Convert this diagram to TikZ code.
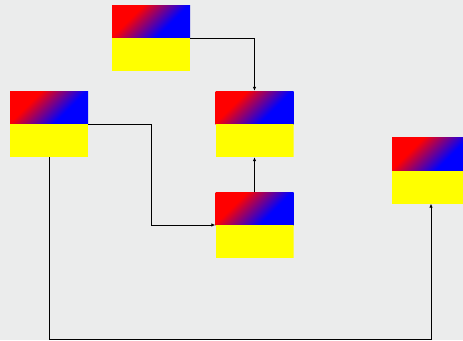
\documentclass[tikz,border=0pt]{standalone}
\usepackage{tikz}
\usetikzlibrary{arrows.meta,positioning}
\definecolor{canvas}{RGB}{235,236,236}
\definecolor{flagyellow}{RGB}{255,255,0}
\definecolor{flagred}{RGB}{255,0,0}
\definecolor{flagblue}{RGB}{0,0,255}
\pgfdeclarehorizontalshading{redblue}{100bp}{color(0bp)=(flagred); color(30bp)=(flagred); color(52bp)=(flagblue); color(100bp)=(flagblue)}
\tikzset{
  flag/.style={rectangle,inner sep=0pt,minimum width=78pt,minimum height=66pt,
    path picture={
      \shade[shading=redblue,shading angle=-45] (path picture bounding box.north west) rectangle (path picture bounding box.east);
      \fill[flagyellow] (path picture bounding box.west) rectangle (path picture bounding box.south east);
    }},
  link/.style={draw=black,line width=0.8pt,-{Latex[length=4pt,width=3.5pt]}}
}

\begin{document}
\begin{tikzpicture}[x=1pt,y=-1pt]
  \fill[canvas] (0,0) rectangle (463,340);
  \useasboundingbox (0,0) rectangle (463,340);
  \clip (0,0) rectangle (463,340);
  % boxes
  \node[flag] (top) at (151,38) {};
  \node[flag] (left) at (49,124) {};
  \node[flag] (upper) at (254.5,124) {};
  \node[flag] (lower) at (254.5,225) {};
  \node[flag] (right) at (431,170.5) {};
  % connectors
  \coordinate (bend) at (151,225);
  \coordinate (floor) at (0,339);
  \draw[link] (top.east) -| (upper.north);
  \draw[link] (left.east) -| (bend) -- (lower.west);
  \draw[link] (lower.north) -- (upper.south);
  \draw[link] (left.south) |- (floor -| right.south) -- (right.south);
\end{tikzpicture}
\end{document}
